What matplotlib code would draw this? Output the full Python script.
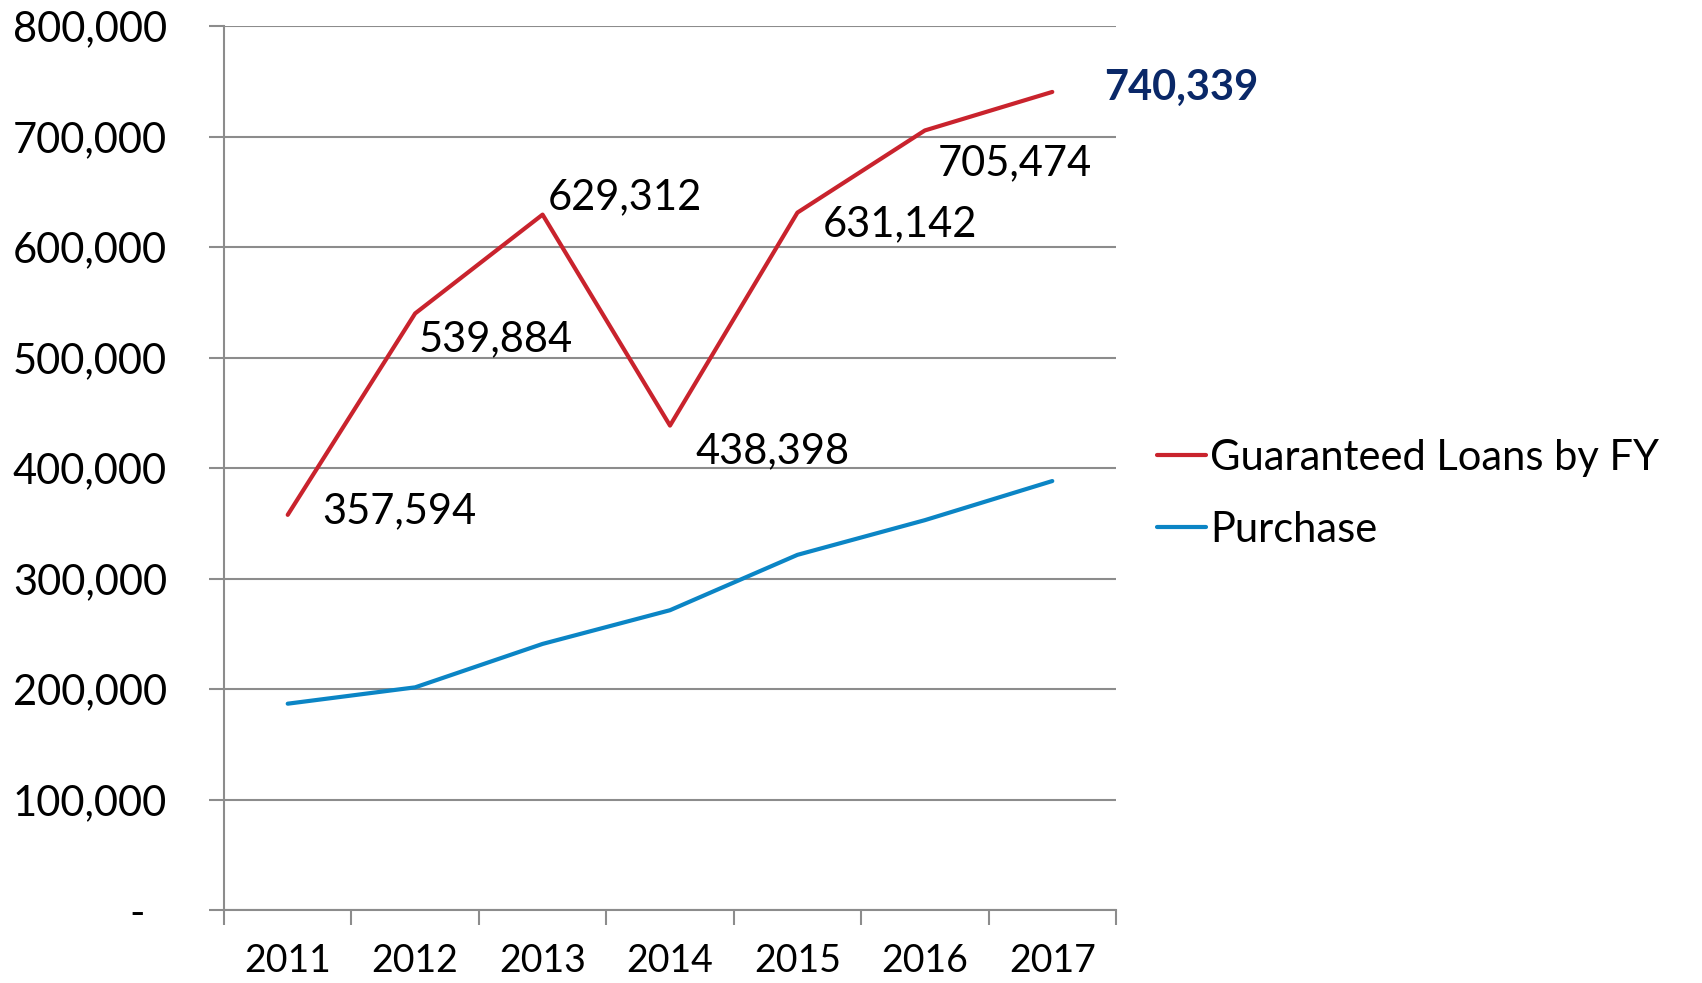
import matplotlib.pyplot as plt
from matplotlib.ticker import FuncFormatter
import numpy as np

years = ['2011', '2012', '2013', '2014', '2015', '2016', '2017']
guaranteed = [357594, 539884, 629312, 438398, 631142, 705474, 740339]
purchase = [186700, 201500, 240800, 271300, 321400, 352800, 388200]

# label offsets in pixels (dx, dy) relative to each red point
label_off = [(35, 4), (4, -26), (5, 17), (25, -26), (25, -12), (13, -33), (52, 4)]

plt.rcParams['font.family'] = ['Lato', 'DejaVu Sans']
fs = 30
grid_col = '#8c8c8c'
red = '#c9232d'
blue = '#0b85c5'

fig = plt.figure(figsize=(17.02, 9.83), dpi=100)
ax = fig.add_axes([224/1702, 73/983, (1116-224)/1702, (910-26)/983])

x = np.arange(len(years))
l1, = ax.plot(x, guaranteed, color=red, lw=3, solid_capstyle='round', label='Guaranteed Loans by FY')
l2, = ax.plot(x, purchase, color=blue, lw=3, solid_capstyle='round', label='Purchase')

for i, v in enumerate(guaranteed):
    dx, dy = label_off[i]
    last = i == len(guaranteed) - 1
    ax.annotate(f'{v:,}', (x[i], v), xytext=(dx, dy), textcoords='offset pixels',
                ha='left', va='center', fontsize=fs,
                fontweight='bold' if last else 'normal',
                color='#0a2868' if last else 'black')

ax.set_xlim(-0.5, len(years) - 0.5)
ax.set_ylim(0, 800000)
ax.set_yticks(np.arange(0, 800001, 100000))
ax.yaxis.set_major_formatter(FuncFormatter(lambda v, p: '-  ' if v == 0 else f'{int(v):,}'))
ax.yaxis.grid(True, color=grid_col, lw=1.5)
ax.set_axisbelow(True)

ax.set_xticks(np.arange(-0.5, len(years)))
ax.set_xticklabels([])
ax.set_xticks(x, minor=True)
ax.set_xticklabels(years, minor=True)
ax.tick_params(axis='x', which='major', length=11, width=1.5, color=grid_col, direction='out')
ax.tick_params(axis='x', which='minor', length=0, pad=24, labelsize=27)
ax.tick_params(axis='y', length=11, width=1.5, color=grid_col, pad=30, labelsize=fs)

for s in ['top', 'right']:
    ax.spines[s].set_visible(False)
for s in ['left', 'bottom']:
    ax.spines[s].set_color(grid_col)
    ax.spines[s].set_linewidth(1.5)

fig.legend(handles=[l1, l2], loc='center left', bbox_to_anchor=(1140/1702, 1 - 494/983),
           frameon=False, fontsize=fs, handlelength=1.18, handletextpad=0.1,
           labelspacing=0.82, borderaxespad=0)

fig.savefig('out.png', dpi=100)
